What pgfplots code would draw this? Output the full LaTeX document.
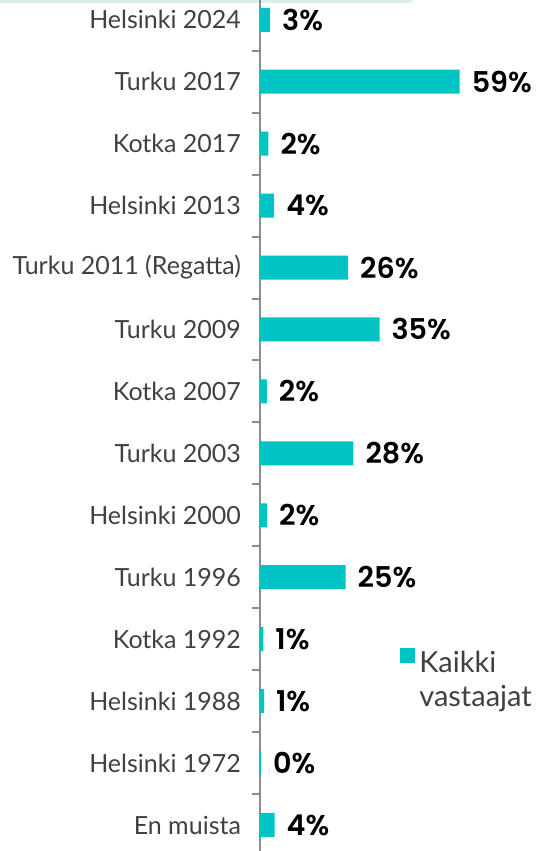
\documentclass[border=0pt]{standalone}
\usepackage{fontspec}
\setmainfont{Lato}
\newfontfamily\pctfont{Poppins}[UprightFont={* SemiBold}]
\usepackage{pgfplots}
\pgfplotsset{compat=1.18}
\usepackage{pgfplotstable}
\definecolor{barc}{RGB}{0,196,196}
\definecolor{labc}{RGB}{64,64,64}
\definecolor{axlc}{RGB}{140,140,140}
\definecolor{framec}{RGB}{222,236,236}

\pgfplotstableread[col sep=comma]{
idx,val,pct
13,3.0,3
12,59.0,59
11,2.5,2
10,4.2,4
9,26.0,26
8,35.3,35
7,2.0,2
6,27.6,28
5,2.1,2
4,25.3,25
3,1.0,1
2,1.2,1
1,0.3,0
0,4.3,4
}\data

\begin{document}
\begin{tikzpicture}
\draw[framec, line width=1.5pt] (0pt,424.7pt) -- (204pt,424.7pt) arc[start angle=-90, end angle=-30, radius=3pt];
\begin{axis}[
  at={(130pt,0pt)}, anchor=south west,
  scale only axis,
  width=140.5pt, height=425.5pt,
  xmin=0, xmax=83,
  ymin=-0.42, ymax=13.32,
  axis x line=none,
  axis y line*=left,
  y axis line style={draw=axlc, line width=1pt},
  ytick={0,...,13},
  yticklabels={En muista,Helsinki 1972,Helsinki 1988,Kotka 1992,Turku 1996,Helsinki 2000,Turku 2003,Kotka 2007,Turku 2009,Turku 2011 (Regatta),Helsinki 2013,Kotka 2017,Turku 2017,Helsinki 2024},
  minor ytick={0.5,1.5,...,12.5},
  tick align=outside,
  major tick length=0pt,
  minor tick length=4pt,
  every tick/.style={draw=axlc, line width=1pt},
  yticklabel style={font=\fontsize{12.5}{14}\selectfont, text=labc, anchor=east, xshift=-6pt},
  xbar, bar width=12pt,
  clip=false,
  point meta=explicit,
  /pgf/number format/assume math mode=true,
  nodes near coords={\pgfmathprintnumber[fixed,precision=0,assume math mode=true]{\pgfplotspointmeta}\%},
  nodes near coords style={font=\pctfont\fontsize{14.3}{16}\selectfont, text=black, anchor=west, xshift=2.5pt},
  legend style={at={(rel axis cs:0.498,0.243)}, anchor=north west, draw=none, fill=none,
    font=\fontsize{14.5}{17}\selectfont, text=labc, inner sep=0pt},
  legend cell align=left,
  legend image code/.code={\fill[barc] (0pt,-0.3pt) rectangle (7.5pt,7.2pt);},
]
\addplot[fill=barc, draw=none] table[x=val, y=idx, meta=pct] {\data};
\addlegendentry{\begin{tabular}[t]{@{}l@{}}Kaikki\\vastaajat\end{tabular}}
\end{axis}
\pgfresetboundingbox
\path (0pt,0pt) rectangle (270.5pt,425.5pt);
\end{tikzpicture}
\end{document}
